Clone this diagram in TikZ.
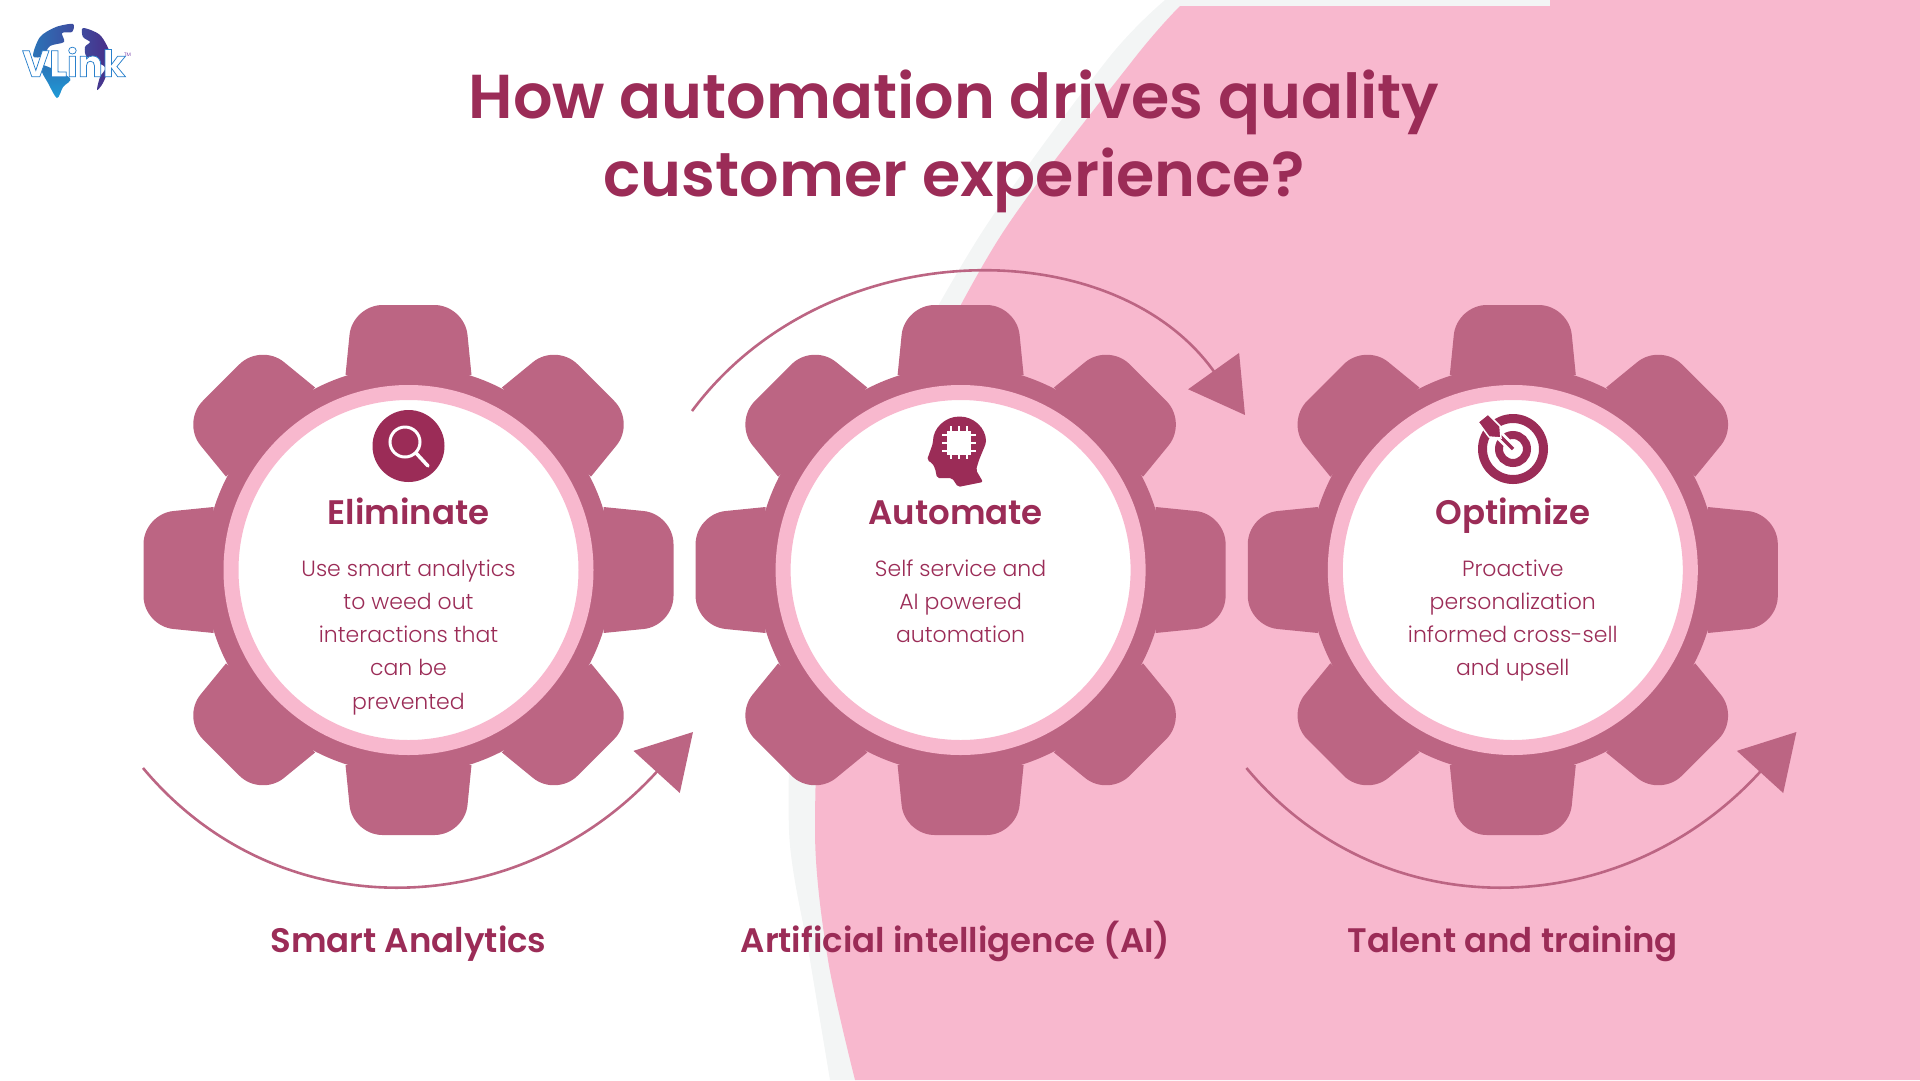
\documentclass[tikz,border=0pt]{standalone}
\usepackage{fontspec}
\usepackage{tikz}
\usetikzlibrary{arrows.meta}
\usetikzlibrary{positioning}
\setmainfont{Poppins}[UprightFont=* Light,BoldFont=* SemiBold]
\newfontfamily\logofont{Poppins Bold}
\definecolor{wine}{HTML}{9B2C57}
\definecolor{rose}{HTML}{BC6583}
\definecolor{blush}{HTML}{F8B8CE}
\definecolor{mist}{HTML}{F3F5F5}
\definecolor{globea}{HTML}{2B74B8}
\definecolor{globeb}{HTML}{3F4A9E}
\definecolor{globec}{HTML}{4A2C86}
\definecolor{globed}{HTML}{1E9BD7}
\tikzstyle{gear}=[circle,fill=rose,minimum size=408pt,inner sep=0pt,outer sep=0pt]
\tikzstyle{hub}=[circle,draw=blush,line width=15pt,fill=white,minimum size=355pt,inner sep=0pt,outer sep=0pt]
\tikzstyle{tooth}=[fill=rose]
\tikzstyle{heading}=[text=wine,anchor=base,font=\bfseries\fontsize{34}{36}\selectfont]
\tikzstyle{body}=[text=wine,align=center,font=\fontsize{22}{33.3}\selectfont,anchor=north]
\tikzstyle{caption}=[text=wine,anchor=base,font=\bfseries\fontsize{34}{36}\selectfont]
\tikzstyle{flow}=[draw=rose,line width=2.6pt,-{Triangle[length=54pt,width=62pt]}]
\begin{document}
\begin{tikzpicture}[x=1pt,y=-1pt]
\useasboundingbox (0,0) rectangle (1920,1080);
% background swaths
\fill[mist] plot[smooth] coordinates {(1165,0) (1107,60) (977,240) (870,440) (800,660) (789,830) (810,960) (830,1080)} -- (1920,1080) -- (1920,0) -- cycle;
\fill[blush] plot[smooth] coordinates {(1180,6) (1133,60) (998,240) (895,440) (828,640) (815,830) (828,960) (855,1080)} -- (1920,1080) -- (1920,0) -- (1550,0) -- (1550,6) -- cycle;

% logo
\shade[left color=globea,right color=globeb] plot[smooth cycle] coordinates {(33,56) (40,37) (56,27) (73,24) (72,32) (62,33) (64,42) (50,46) (43,56)};
\shade[left color=globeb,right color=globec] plot[smooth cycle] coordinates {(83,28) (100,35) (110,53) (109,67) (103,83) (97,90) (100,77) (105,67) (87,57) (85,47) (90,42) (83,37)};
\shade[top color=globea,bottom color=globed] plot[smooth cycle] coordinates {(43,65) (70,78) (63,87) (57,98) (48,83) (42,72)};
\node[inner sep=0pt,text=white] (logo) at (74,62) {\logofont\fontsize{37}{37}\selectfont\addfontfeature{FakeBold=2}\special{pdf:code 0.16 0.5 0.8 RG}VLink};
\node[inner sep=0pt,text=wine!60!blue,right=-2pt of logo.north east,yshift=-8pt] (tm) {\fontsize{5}{5}\selectfont TM};

\node[text=wine,align=center,font=\bfseries\fontsize{62}{78}\selectfont] (title) at (954,141) {How automation drives quality\\customer experience?};

% three gears
\node[gear] (g1) at (408.5,570) {};
\node[gear] (g2) at (960.6,570) {};
\node[gear] (g3) at (1512.8,570) {};
\foreach \c in {g1,g2,g3}
  \foreach \a in {0,45,...,315}
    \fill[tooth,shift={(\c)},rotate=\a] (-63,195) [rounded corners=30pt] -- (-56,265) -- (56,265) [sharp corners] -- (63,195) -- cycle;
\node[hub] (h1) at (g1) {};
\node[hub] (h2) at (g2) {};
\node[hub] (h3) at (g3) {};

\node[heading] (eliminate) at ([yshift=46pt]g1) {Eliminate};
\node[heading] (automate) at ([xshift=-5pt,yshift=46pt]g2) {Automate};
\node[heading] (optimize) at ([yshift=46pt]g3) {Optimize};

\node[body] (t1) at ([yshift=14pt]g1) {Use smart analytics\\to weed out\\interactions that\\can be\\prevented};
\node[body] (t2) at ([yshift=14pt]g2) {Self service and\\AI powered\\automation};
\node[body] (t3) at ([yshift=14pt]g3) {Proactive\\personalization\\informed cross-sell\\and upsell};

\node[caption] (smart) at (408.5,952) {Smart Analytics};
\node[caption] (ai) at (955.5,952) {Artificial intelligence (AI)};
\node[caption] (talent) at (1512.8,952) {Talent and training};

% magnifier
\node[circle,fill=wine,minimum size=72pt,inner sep=0pt] (lens) at (408.5,446) {};
\draw[white,line width=3pt] (405,442) circle (15);
\draw[white,line width=3.5pt,line cap=round] (416,453) -- (428,466);

% head with chip
\fill[wine,rounded corners=2pt] (933,443) arc (180:360:26.5) -- (979,460) -- (976,470) -- (983,482) -- (958,487) -- (952,478) -- (937,478) -- (935,468) -- (932,463) -- (927,460) -- cycle;
\foreach \p in {-8,0,8} {
  \draw[white,line width=2pt] (959+\p,426) -- (959+\p,459);
  \draw[white,line width=2pt] (942,442.5+\p) -- (976,442.5+\p);
}
\fill[white] (947,430.5) rectangle (971,454.5);

% target
\draw[wine,line width=9pt] (1513,449) circle (30.5);
\draw[wine,line width=8pt] (1513,449) circle (14);
\draw[white,line width=9pt] (1513,449) -- (1485,421);
\draw[wine,line width=3.5pt] (1513,449) -- (1488,424);
\fill[wine,draw=white,line width=1.5pt] (1478,422) -- (1488,414) -- (1500,426) -- (1501,438) -- (1489,437) -- cycle;

% arrows
\coordinate (a1) at (143,768);
\coordinate (b1) at (693,732);
\coordinate (a2) at (692,411);
\coordinate (b2) at (1245,415);
\coordinate (a3) at (1246.4,768);
\coordinate (b3) at (1796.4,732);
\draw[flow] (a1) .. controls (280,932) and (520,922) .. (b1);
\draw[flow] (a2) .. controls (826,231) and (1113,230) .. (b2);
\draw[flow] (a3) .. controls (1383.4,932) and (1623.4,922) .. (b3);
\end{tikzpicture}
\end{document}
